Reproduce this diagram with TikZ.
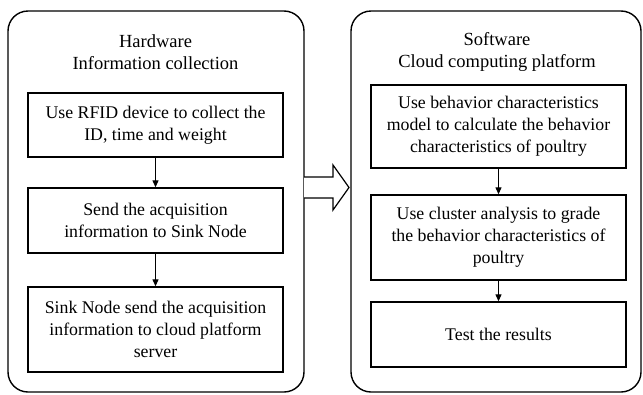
\documentclass[tikz,border=0pt]{standalone}
\usepackage{fontspec}
\setmainfont{Liberation Serif}
\usetikzlibrary{arrows.meta}
\begin{document}
\begin{tikzpicture}[x=1pt,y=-1pt,
  container/.style={draw, line width=1.4pt, rounded corners=20pt},
  stepbox/.style={draw, line width=1.4pt, minimum width=255pt, align=center, inner sep=0pt,
     font=\fontsize{17.8}{22}\selectfont},
  title/.style={align=center, font=\fontsize{18.5}{22}\selectfont},
  flow/.style={line width=1.2pt, -{Triangle[length=7pt,width=6pt]}},
  bigarrow/.style={draw, line width=1.2pt, fill=white, line join=miter}
]
\useasboundingbox (0,0) rectangle (643,394);
% containers
\draw[container] (8,11) rectangle (304,392);
\draw[container] (351,11) rectangle (641,392);
% titles
\node[title] (t1) at (155.5,52) {Hardware\\Information collection};
\node[title] (t2) at (497,52) {Software\\Cloud computing platform};
% left boxes
\node[stepbox, minimum height=64pt] (a1) at (155.5,125) {Use RFID device to collect the\\ID, time and weight};
\node[stepbox, minimum height=65pt] (a2) at (155.5,220.5) {Send the acquisition\\information to Sink Node};
\node[stepbox, minimum height=85pt] (a3) at (155.5,329.5) {Sink Node send the acquisition\\information to cloud platform\\server};
% right boxes
\node[stepbox, minimum height=83pt] (b1) at (498.5,126.5) {Use behavior characteristics\\model to calculate the behavior\\characteristics of poultry};
\node[stepbox, minimum height=85pt] (b2) at (498.5,237.5) {Use cluster analysis to grade\\the behavior characteristics of\\poultry};
\node[stepbox, minimum height=65pt] (b3) at (498.5,334.5) {Test the results};
% flow arrows
\draw[flow] (a1) -- (a2);
\draw[flow] (a2) -- (a3);
\draw[flow] (b1) -- (b2);
\draw[flow] (b2) -- (b3);
% big arrow
\coordinate (bs) at (304,187.5);
\coordinate (bt) at (349,187.5);
\draw[bigarrow] (304,177) -- (333,177) -- (333,165) -- (bt) -- (333,210) -- (333,198) -- (304,198);
\end{tikzpicture}
\end{document}
